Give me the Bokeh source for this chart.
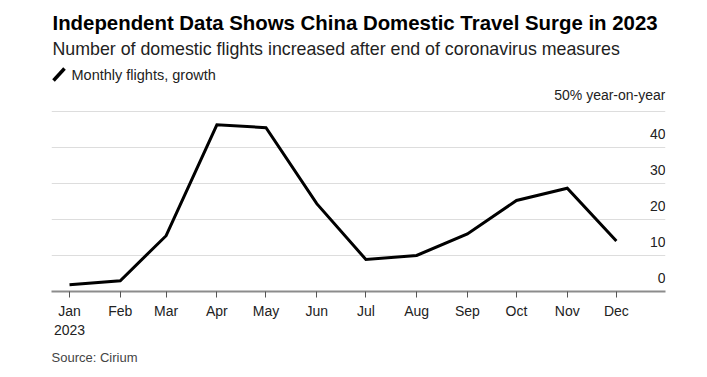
from datetime import datetime
from bokeh.plotting import figure
from bokeh.models import Range1d, FixedTicker, Label, Arrow, ColumnDataSource, Title
from bokeh.embed import file_html
from bokeh.resources import INLINE

# ---- data ----
year = 2023
months = ["Jan", "Feb", "Mar", "Apr", "May", "Jun", "Jul", "Aug", "Sep", "Oct", "Nov", "Dec"]
growth = [1.9, 3.0, 15.5, 46.3, 45.5, 24.4, 8.9, 10.0, 16.0, 25.3, 28.7, 14.0]
y_ticks = [0, 10, 20, 30, 40, 50]
y_tick_labels = ["0", "10", "20", "30", "40", "50% year-on-year"]
title_text = "Independent Data Shows China Domestic Travel Surge in 2023"
subtitle_text = "Number of domestic flights increased after end of coronavirus measures"
legend_text = "Monthly flights, growth"
source_text = "Source: Cirium"

FONT = "Liberation Sans"

dates = [datetime(year, i + 1, 1) for i in range(len(months))]
src = ColumnDataSource(dict(date=dates, growth=growth))

# frame: x 51..665, y 0..291 ; 50 maps to y=111 (3.6 px per unit)
p = figure(
    width=707, height=377,
    x_axis_type="datetime",
    x_range=Range1d(datetime(year - 1, 12, 21), datetime(year, 12, 31)),
    y_range=Range1d(0, 291 / 3.6),
    output_backend="svg", toolbar_location=None,
    min_border_left=51, min_border_right=42, min_border_top=0, min_border_bottom=86,
)
p.outline_line_color = None
p.background_fill_color = "white"
p.border_fill_color = "white"

p.line("date", "growth", source=src, line_color="black", line_width=3, line_join="miter")

# axes
p.yaxis.visible = False
p.xgrid.visible = False
p.ygrid.ticker = FixedTicker(ticks=y_ticks[1:])
p.ygrid.grid_line_color = "#dddddd"
p.ygrid.grid_line_width = 1

xa = p.xaxis[0]
tick_ms = [d.timestamp() * 1000 for d in dates]
xa.ticker = FixedTicker(ticks=tick_ms)
overrides = {}
for i, (t, m) in enumerate(zip(tick_ms, months)):
    overrides[t] = f"{m}\n{year}" if i == 0 else m
xa.major_label_overrides = overrides
xa.axis_line_color = "#8c8c8c"
xa.axis_line_width = 2
xa.major_tick_line_color = "#555555"
xa.major_tick_in = 0
xa.major_tick_out = 6
xa.minor_tick_line_color = None
xa.major_label_text_font = FONT
xa.major_label_text_font_size = "14px"
xa.major_label_text_color = "#222222"
xa.major_label_standoff = 5

# y tick labels inside the plot, above gridlines at right edge
for v, lab in zip(y_ticks, y_tick_labels):
    p.add_layout(Label(x=datetime(year, 12, 31), y=v, text=lab, text_align="right",
                       text_baseline="bottom", y_offset=9, text_font=FONT,
                       text_font_size="14px", text_color="#222222"))

# header texts (screen units, relative to frame)
p.add_layout(Label(x=1, y=269, x_units="screen", y_units="screen", text=title_text,
                   text_font=FONT, text_font_style="bold", text_font_size="20.4px",
                   text_baseline="middle", text_color="black"))
p.add_layout(Label(x=1, y=243, x_units="screen", y_units="screen", text=subtitle_text,
                   text_font=FONT, text_font_size="17.8px",
                   text_baseline="middle", text_color="#222222"))
p.add_layout(Label(x=20, y=217, x_units="screen", y_units="screen", text=legend_text,
                   text_font=FONT, text_font_size="14.5px",
                   text_baseline="middle", text_color="#222222"))
p.add_layout(Arrow(end=None, x_start=2, y_start=211, x_end=13, y_end=223,
                   start_units="screen", end_units="screen",
                   line_color="black", line_width=3.5))

p.add_layout(Title(text=source_text, align="left", text_font=FONT,
                   text_font_size="13px", text_font_style="normal",
                   text_color="#444444", standoff=14), "below")

open("out.html", "w").write(file_html(p, INLINE))
